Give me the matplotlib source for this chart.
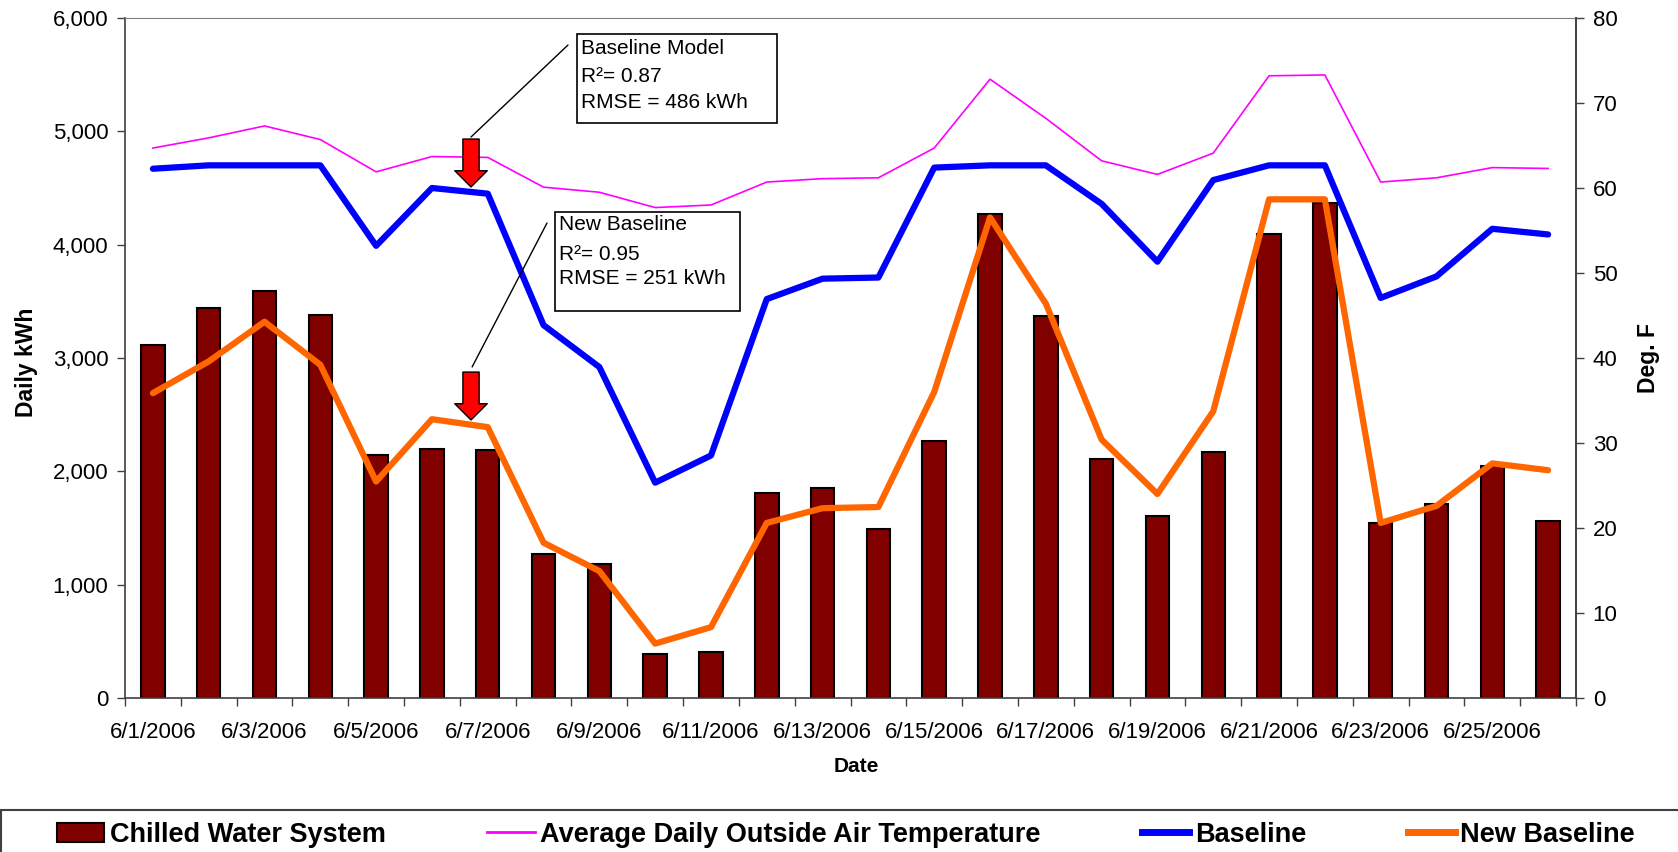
import numpy as np
import matplotlib
matplotlib.use("Agg")
import matplotlib.pyplot as plt
from matplotlib.patches import Rectangle, Patch
from matplotlib.lines import Line2D
from matplotlib.ticker import FuncFormatter

dates = ["6/%d/2006" % d for d in range(1, 27)]
chilled = [3115, 3445, 3590, 3380, 2145, 2195, 2190, 1275, 1180, 390, 410, 1810, 1855,
           1495, 2265, 4275, 3375, 2110, 1605, 2170, 4090, 4365, 1545, 1715, 2045, 1565]
baseline = [4670, 4700, 4700, 4700, 3990, 4500, 4450, 3290, 2920, 1900, 2140, 3520, 3700,
            3710, 4680, 4700, 4700, 4360, 3850, 4570, 4700, 4700, 3530, 3720, 4140, 4090]
new_baseline = [2690, 2970, 3320, 2940, 1910, 2460, 2390, 1370, 1120, 480, 625, 1545, 1675,
                1685, 2700, 4240, 3480, 2280, 1800, 2530, 4400, 4400, 1545, 1695, 2070, 2010]
temp = [64.7, 65.9, 67.3, 65.7, 61.9, 63.7, 63.6, 60.1, 59.5, 57.7, 58.0, 60.7, 61.1,
        61.2, 64.7, 72.8, 68.2, 63.2, 61.6, 64.1, 73.2, 73.3, 60.7, 61.2, 62.4, 62.3]

W, H = 1678, 852
FONT = "Liberation Sans"
plt.rcParams["font.family"] = FONT

fig = plt.figure(figsize=(W / 100, H / 100), dpi=100)
ax = fig.add_axes([125 / W, 1 - 698 / H, (1576 - 125) / W, (698 - 18) / H])
x = np.arange(len(dates))

ax.bar(x, chilled, width=0.42, color="#800000", edgecolor="black", lw=1.5, zorder=2)
ax.plot(x, baseline, color="#0000FF", lw=4.5, solid_capstyle="round", solid_joinstyle="round", zorder=3)
ax.plot(x, new_baseline, color="#FF6600", lw=4.5, solid_capstyle="round", solid_joinstyle="round", zorder=3)
ax.set_xlim(-0.5, len(dates) - 0.5)
ax.set_ylim(0, 6000)

ax2 = ax.twinx()
ax2.plot(x, temp, color="#FF00FF", lw=1.2)
ax2.set_ylim(0, 80)

# ticks
ax.set_yticks(range(0, 6001, 1000))
ax.yaxis.set_major_formatter(FuncFormatter(lambda v, p: "{:,.0f}".format(v)))
ax.tick_params(axis="y", direction="out", length=6, width=1, color="#404040", pad=6, labelsize=16)
ax2.set_yticks(range(0, 81, 10))
ax2.tick_params(axis="y", direction="out", length=6, width=1, color="#404040", pad=6, labelsize=16)

ax.set_xticks(x[::2])
ax.set_xticklabels(dates[::2], fontsize=16)
ax.set_xticks(np.arange(-0.5, len(dates), 1), minor=True)
ax.tick_params(axis="x", which="major", length=0, pad=17)
ax.tick_params(axis="x", which="minor", direction="out", length=6, width=1, color="#404040")

for s in ["left", "bottom", "right"]:
    ax.spines[s].set_color("#404040")
    ax.spines[s].set_linewidth(1.2)
ax.spines["top"].set_color("#808080")
ax2.spines["right"].set_color("#404040")
ax2.spines["right"].set_linewidth(1.2)
for s in ["left", "top", "bottom"]:
    ax2.spines[s].set_visible(False)

# axis titles
fig.text(27 / W, 1 - 362 / H, "Daily kWh", rotation=90, ha="center", va="center",
         fontweight="bold", fontsize=16.5)
fig.text(1648 / W, 1 - 358 / H, "Deg. F", rotation=90, ha="center", va="center",
         fontweight="bold", fontsize=16.5)
fig.text(856 / W, 1 - 767 / H, "Date", ha="center", va="center", fontweight="bold", fontsize=15)

# red arrows and leader lines
arrow_style = "simple,head_length=0.65,head_width=1.3,tail_width=0.65"
for top, tip in [(4932, 4509), (2876, 2453)]:
    ax2.annotate("", xy=(5.7, tip), xycoords=ax.transData, xytext=(5.7, top), textcoords=ax.transData,
                 arrowprops=dict(arrowstyle=arrow_style, fc="red", ec="black", lw=1,
                                 mutation_scale=18, shrinkA=0, shrinkB=0), zorder=10)
ax2.annotate("", xy=(5.7, 4950), xycoords=ax.transData, xytext=(568 / W, 1 - 45 / H),
             textcoords="figure fraction",
             arrowprops=dict(arrowstyle="-", color="black", lw=1, shrinkA=0, shrinkB=0))
ax2.annotate("", xy=(5.72, 2921), xycoords=ax.transData, xytext=(547 / W, 1 - 223 / H),
             textcoords="figure fraction",
             arrowprops=dict(arrowstyle="-", color="black", lw=1, shrinkA=0, shrinkB=0))

# annotation boxes
boxes = [
    ((577, 34, 200, 89), ["Baseline Model", "R\u00b2= 0.87", "RMSE = 486 kWh"], [48, 76, 102]),
    ((555, 212, 185, 99), ["New Baseline", "R\u00b2= 0.95", "RMSE = 251 kWh"], [225, 254, 279]),
]
for (bx, by, bw, bh), lines, ys in boxes:
    fig.patches.append(Rectangle((bx / W, 1 - (by + bh) / H), bw / W, bh / H, transform=fig.transFigure,
                                 facecolor="white", edgecolor="black", lw=1.2, zorder=5))
    for txt, yy in zip(lines, ys):
        fig.text((bx + 4) / W, 1 - yy / H, txt, ha="left", va="center", fontsize=15, zorder=6)

# legend
fig.patches.append(Rectangle((0.0004, -0.1), 1.2, 0.1 + (1 - 810 / H), transform=fig.transFigure,
                             fill=False, edgecolor="#404040", lw=1.5))
handles = [Patch(facecolor="#800000", edgecolor="black", lw=1.5),
           Line2D([], [], color="#FF00FF", lw=2),
           Line2D([], [], color="#0000FF", lw=5),
           Line2D([], [], color="#FF6600", lw=5)]
labels = ["Chilled Water System", "Average Daily Outside Air Temperature", "Baseline", "New Baseline"]
fig.legend(handles, labels, loc="center", bbox_to_anchor=(846 / W, 1 - 835 / H), ncol=4, frameon=False,
           prop=dict(weight="bold", size=19.5), columnspacing=3.75, handlelength=1.75,
           handleheight=0.75, handletextpad=0.2, borderpad=0)

fig.savefig("out.png", dpi=100)
